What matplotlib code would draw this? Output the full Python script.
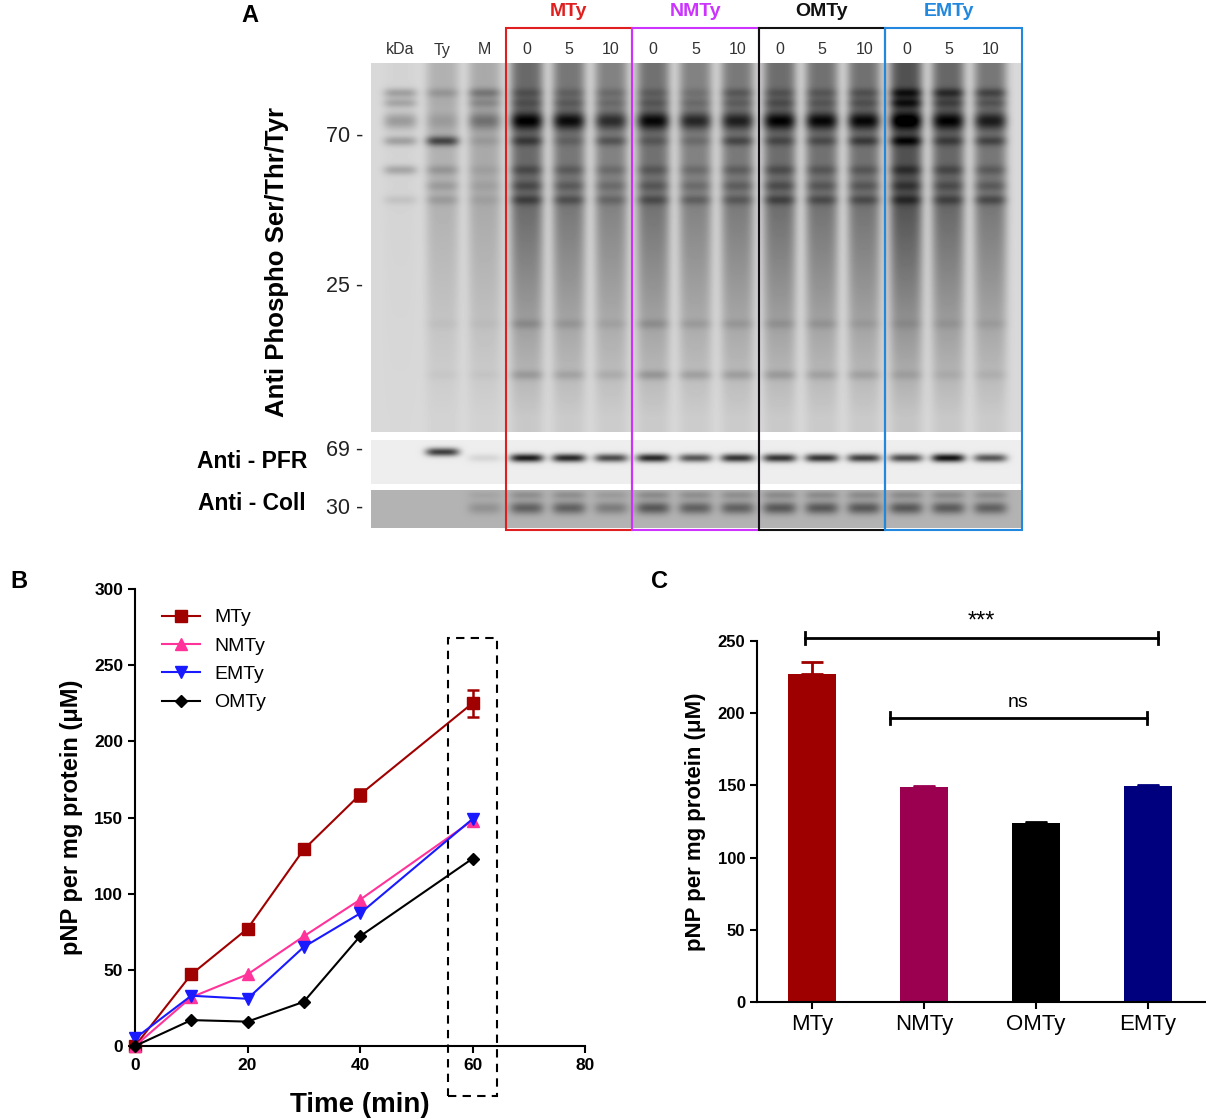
import numpy as np
import matplotlib
matplotlib.use('Agg')
import matplotlib.pyplot as plt
from matplotlib.patches import Rectangle

plt.rcParams['font.family'] = ['Liberation Sans', 'DejaVu Sans']

# ---------------- data ----------------
# panel B: time course
time_min = [0, 10, 20, 30, 40, 60]
mty_b = [0, 47, 77, 129, 165, 225]
mty_err = [0, 1, 1, 2, 4, 9]
nmty_b = [0, 32, 47, 72, 96, 148]
emty_b = [5, 33, 31, 65, 87, 149]
omty_b = [0, 17, 16, 29, 72, 123]

# panel C: 60 min values
groups_c = ['MTy', 'NMTy', 'OMTy', 'EMTy']
values_c = [227, 149, 124, 149.5]
errors_c = [8.5, 0.6, 0.5, 0.6]
colors_c = ['#9e0000', '#9b0050', '#000000', '#00007f']

# panel A: blot lanes
lane_labels = ['kDa', 'Ty', 'M', '0', '5', '10', '0', '5', '10',
               '0', '5', '10', '0', '5', '10']
group_names = ['MTy', 'NMTy', 'OMTy', 'EMTy']
group_colors = ['#e02020', '#cc33ff', '#111111', '#2288dd']
marker_kda = ['70 -', '25 -', '69 -', '30 -']
marker_rows = [136, 286, 450, 509]

# band rows (image rows) and strength per lane (0..1)
band_rows = [93, 103, 121, 141, 170, 186, 200, 324, 375]
band_strength = [
    [0.45, 0.40, 0.50, 0.45, 0.40, 0.00, 0.15, 0.00, 0.00],  # kDa
    [0.25, 0.05, 0.20, 0.95, 0.25, 0.20, 0.20, 0.05, 0.05],  # Ty
    [0.45, 0.30, 0.50, 0.15, 0.10, 0.10, 0.10, 0.05, 0.05],  # M
    [0.25, 0.25, 0.95, 0.45, 0.30, 0.30, 0.40, 0.20, 0.25],  # MTy 0
    [0.20, 0.25, 0.95, 0.20, 0.25, 0.25, 0.35, 0.15, 0.20],  # MTy 5
    [0.20, 0.20, 0.75, 0.40, 0.20, 0.20, 0.25, 0.10, 0.15],  # MTy 10
    [0.20, 0.25, 0.95, 0.25, 0.25, 0.25, 0.35, 0.20, 0.30],  # NMTy 0
    [0.15, 0.20, 0.80, 0.20, 0.20, 0.20, 0.30, 0.15, 0.25],  # NMTy 5
    [0.30, 0.25, 0.80, 0.45, 0.25, 0.25, 0.30, 0.15, 0.25],  # NMTy 10
    [0.25, 0.30, 0.95, 0.35, 0.30, 0.30, 0.40, 0.15, 0.25],  # OMTy 0
    [0.25, 0.25, 0.95, 0.35, 0.25, 0.25, 0.35, 0.15, 0.20],  # OMTy 5
    [0.30, 0.30, 0.95, 0.50, 0.25, 0.25, 0.35, 0.10, 0.20],  # OMTy 10
    [0.60, 0.60, 0.95, 0.70, 0.35, 0.30, 0.40, 0.10, 0.15],  # EMTy 0
    [0.55, 0.35, 0.90, 0.40, 0.30, 0.25, 0.35, 0.10, 0.10],  # EMTy 5
    [0.45, 0.30, 0.80, 0.45, 0.25, 0.25, 0.40, 0.10, 0.10],  # EMTy 10
]
lane_smear = [0.03, 0.25, 0.30, 0.70, 0.62, 0.55, 0.65, 0.55, 0.60,
              0.68, 0.65, 0.65, 0.85, 0.72, 0.62]
pfr_strength = [0.0, 0.75, 0.10, 0.90, 0.85, 0.70, 0.85, 0.65, 0.80,
                0.80, 0.80, 0.75, 0.70, 0.95, 0.65]
coll_strength = [0.0, 0.0, 0.18, 0.45, 0.45, 0.30, 0.50, 0.45, 0.45,
                 0.50, 0.50, 0.50, 0.50, 0.48, 0.45]

W, H = 1206, 1119
fig = plt.figure(figsize=(W / 100, H / 100), dpi=100)


def px_axes(x0, y0, x1, y1):
    return fig.add_axes([x0 / W, 1 - y1 / H, (x1 - x0) / W, (y1 - y0) / H])


# ====================================
# PANEL A - blot
# ====================================
lane_x0, pitch = 400, 42.2
xl = ((371 - lane_x0) / pitch, (1023 - lane_x0) / pitch)
axA = px_axes(371, 0, 1023, 540)
axA.set_xlim(*xl)
axA.set_ylim(540, 0)
axA.axis('off')

nl = len(lane_labels)
cols = np.linspace(xl[0], xl[1], 652)
lane_prof = np.array([np.exp(-((cols - i) / 0.40) ** 4) for i in range(nl)])


def strip(r0, r1, bg, row_fn):
    rows = np.arange(r0, r1) + 0.5
    img = np.full((len(rows), len(cols)), bg)
    for i in range(nl):
        img += np.outer(row_fn(i, rows), lane_prof[i])
    return np.clip(img, 0, 1)


def main_rows(i, rows):
    prof = np.where(rows < 205, 1.0, np.clip(1 - (rows - 205) / 250, 0.15, 1))
    v = lane_smear[i] * 0.62 * prof
    for r, s in zip(band_rows, band_strength[i]):
        sig = 6 if r == 121 else 3.5
        v = v + s * 0.45 * np.exp(-0.5 * ((rows - r) / sig) ** 2)
    return v


def pfr_rows(i, rows):
    r = 452 if i == 1 else 458
    return pfr_strength[i] * 0.9 * np.exp(-0.5 * ((rows - r) / 3.0) ** 2)


def coll_rows(i, rows):
    return coll_strength[i] * (0.7 * np.exp(-0.5 * ((rows - 508) / 4.5) ** 2)
                               + 0.3 * np.exp(-0.5 * ((rows - 495) / 3.0) ** 2))


for (r0, r1, bg, fn) in [(63, 432, 0.15, main_rows), (440, 484, 0.07, pfr_rows),
                         (490, 528, 0.30, coll_rows)]:
    axA.imshow(strip(r0, r1, bg, fn), cmap='gray_r', vmin=0, vmax=1,
               extent=(xl[0], xl[1], r1, r0), aspect='auto',
               interpolation='bilinear')

for g, (name, col) in enumerate(zip(group_names, group_colors)):
    left = 2.5 + 3 * g
    right = left + 3 if g < 3 else xl[1] - 0.03
    axA.add_patch(Rectangle((left, 28), right - left, 502, fill=False,
                            edgecolor=col, lw=1.5, clip_on=False, zorder=5))
    axA.text(left + 1.5, 11, name, color=col, fontsize=14,
             fontweight='bold', ha='center', va='center')

for i, lab in enumerate(lane_labels):
    axA.text(i, 50, lab, fontsize=11.5, color='#333333', ha='center',
             va='center')

for lab, r in zip(marker_kda, marker_rows):
    axA.text((363 - lane_x0) / pitch, r, lab, fontsize=15.5, ha='right',
             va='center', color='#222222')
axA.text((277 - lane_x0) / pitch, 262, 'Anti Phospho Ser/Thr/Tyr',
         fontsize=18.5, fontweight='bold', rotation=90, ha='center',
         va='center')
axA.text((252 - lane_x0) / pitch, 462, 'Anti - PFR', fontsize=16.5,
         fontweight='bold', ha='center', va='center')
axA.text((252 - lane_x0) / pitch, 504, 'Anti - Coll', fontsize=16.5,
         fontweight='bold', ha='center', va='center')
axA.text((250 - lane_x0) / pitch, 16, 'A', fontsize=17, fontweight='bold',
         ha='center', va='center')

# ====================================
# PANEL B - time course
# ====================================
axB = px_axes(135, 589, 585, 1046)
series = [
    ('MTy', mty_b, '#a00000', 's', 8.5),
    ('NMTy', nmty_b, '#ff3399', '^', 8),
    ('EMTy', emty_b, '#1a1aff', 'v', 8),
    ('OMTy', omty_b, '#000000', 'D', 6.5),
]
handles = []
for name, vals, col, mk, ms in series:
    if name == 'MTy':
        axB.errorbar(time_min, vals, yerr=mty_err, color=col, fmt='none',
                     capsize=4, capthick=1.8, elinewidth=1.8, clip_on=False,
                     zorder=3)
    h, = axB.plot(time_min, vals, color=col, marker=mk, ms=ms, lw=1.5,
                  label=name, clip_on=False, zorder=3)
    handles.append(h)

axB.add_patch(Rectangle((55.6, -33), 8.8, 301, fill=False, ls=(0, (4, 3)),
                        lw=1.5, edgecolor='black', clip_on=False, zorder=4))
axB.set_xlim(0, 80)
axB.set_ylim(0, 300)
axB.set_xticks([0, 20, 40, 60, 80])
axB.set_yticks([0, 50, 100, 150, 200, 250, 300])
for s in ['top', 'right']:
    axB.spines[s].set_visible(False)
for s in ['left', 'bottom']:
    axB.spines[s].set_linewidth(1.5)
axB.tick_params(width=1.5, length=5, labelsize=12.5)
for t in axB.get_xticklabels() + axB.get_yticklabels():
    t.set_fontweight('bold')
axB.set_xlabel('Time (min)', fontsize=20, fontweight='bold', labelpad=14)
axB.set_ylabel('pNP per mg protein (\u03bcM)', fontsize=17,
               fontweight='bold', labelpad=8)
axB.legend(handles=handles, loc='upper left', bbox_to_anchor=(0.02, 0.995),
           frameon=False, fontsize=14, labelspacing=0.55, handlelength=2.0,
           handletextpad=0.7)
fig.text(10 / W, 1 - 582 / H, 'B', fontsize=17, fontweight='bold',
         ha='left', va='center')

# ====================================
# PANEL C - bars at 60 min
# ====================================
axC = px_axes(757, 641, 1205, 1002)
xpos = np.arange(len(groups_c))
axC.bar(xpos, values_c, width=0.43, color=colors_c, zorder=2)
for x, v, e, c in zip(xpos, values_c, errors_c, colors_c):
    axC.errorbar(x, v, yerr=[[0], [e]], color=c, capsize=8, capthick=2,
                 elinewidth=2, clip_on=False, zorder=1)
axC.set_xlim(-0.49, 3.51)
axC.set_ylim(0, 250)
axC.set_xticks(xpos)
axC.set_xticklabels(groups_c, fontsize=16)
axC.set_yticks([0, 50, 100, 150, 200, 250])
for s in ['top', 'right']:
    axC.spines[s].set_visible(False)
for s in ['left', 'bottom']:
    axC.spines[s].set_linewidth(1.5)
axC.tick_params(width=1.5, length=5)
axC.tick_params(axis='y', labelsize=12)
for t in axC.get_yticklabels():
    t.set_fontweight('bold')
axC.set_ylabel('pNP per mg protein (\u03bcM)', fontsize=16,
               fontweight='bold', labelpad=8)

# significance brackets
for x0, x1, y, lab, dy, fs in [(-0.06, 3.09, 252, '***', 4, 17),
                               (0.7, 2.99, 196.5, 'ns', 5, 14)]:
    axC.plot([x0, x1], [y, y], color='black', lw=2, clip_on=False)
    for xx in (x0, x1):
        axC.plot([xx, xx], [y - 4, y + 4], color='black', lw=2, clip_on=False)
    axC.text((x0 + x1) / 2, y + dy, lab, fontsize=fs, ha='center',
             va='bottom', clip_on=False)
fig.text(660 / W, 1 - 582 / H, 'C', fontsize=17, fontweight='bold',
         ha='center', va='center')

fig.savefig('out.png', dpi=100)
